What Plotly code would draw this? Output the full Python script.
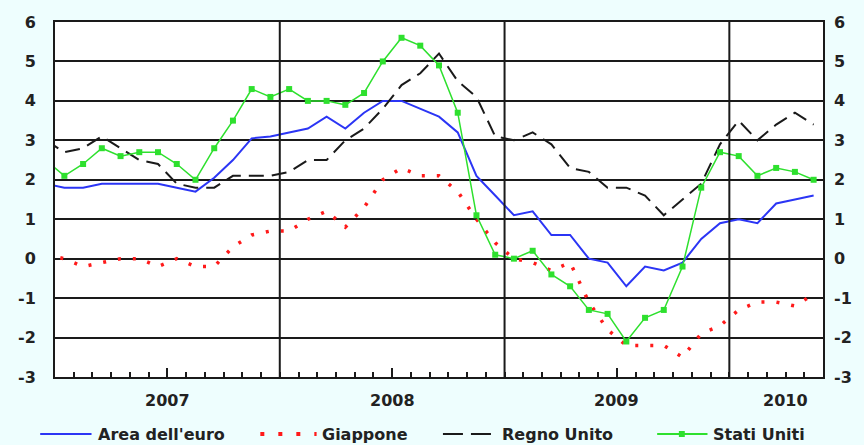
import plotly.graph_objects as go

# Monthly inflation rates (%), Dec 2006 .. May 2010
months = (["2006-12"]
          + [f"{y}-{m:02d}" for y in (2007, 2008, 2009) for m in range(1, 13)]
          + [f"2010-{m:02d}" for m in range(1, 6)])

area_euro = [1.9,
             1.8, 1.8, 1.9, 1.9, 1.9, 1.9, 1.8, 1.7, 2.05, 2.5, 3.05, 3.1,
             3.2, 3.3, 3.6, 3.3, 3.7, 4.0, 4.0, 3.8, 3.6, 3.2, 2.1, 1.6,
             1.1, 1.2, 0.6, 0.6, 0.0, -0.1, -0.7, -0.2, -0.3, -0.1, 0.5, 0.9,
             1.0, 0.9, 1.4, 1.5, 1.6]
giappone = [0.1,
            0.0, -0.2, -0.1, 0.0, 0.0, -0.2, 0.0, -0.2, -0.2, 0.3, 0.6, 0.7,
            0.7, 1.0, 1.2, 0.8, 1.3, 2.0, 2.3, 2.1, 2.1, 1.7, 1.0, 0.4,
            0.0, -0.1, -0.3, -0.1, -1.1, -1.8, -2.2, -2.2, -2.2, -2.5, -1.9, -1.7,
            -1.3, -1.1, -1.1, -1.2, -0.9]
regno_unito = [3.0,
               2.7, 2.8, 3.1, 2.8, 2.5, 2.4, 1.9, 1.8, 1.8, 2.1, 2.1, 2.1,
               2.2, 2.5, 2.5, 3.0, 3.3, 3.8, 4.4, 4.7, 5.2, 4.5, 4.1, 3.1,
               3.0, 3.2, 2.9, 2.3, 2.2, 1.8, 1.8, 1.6, 1.1, 1.5, 1.9, 2.9,
               3.5, 3.0, 3.4, 3.7, 3.4]
stati_uniti = [2.5,
               2.1, 2.4, 2.8, 2.6, 2.7, 2.7, 2.4, 2.0, 2.8, 3.5, 4.3, 4.1,
               4.3, 4.0, 4.0, 3.9, 4.2, 5.0, 5.6, 5.4, 4.9, 3.7, 1.1, 0.1,
               0.0, 0.2, -0.4, -0.7, -1.3, -1.4, -2.1, -1.5, -1.3, -0.2, 1.8, 2.7,
               2.6, 2.1, 2.3, 2.2, 2.0]

year_labels = ["2007", "2008", "2009", "2010"]
year_label_pos = [6, 18, 30, 39]
year_bounds = [12, 24, 36]
y_ticks = [-3, -2, -1, 0, 1, 2, 3, 4, 5, 6]
y_ticktext = [str(v) for v in y_ticks]

# x position: month index centred in its slot (Jan 2007 slot = [0,1])
xs = [i - 0.5 for i in range(len(months))]

BLUE = "#2b35f5"
RED = "#ff1a1a"
BLACK = "#1a1a1a"
GREEN = "#2ee02e"
FONT = "DejaVu Sans"

fig = go.Figure()
fig.add_trace(go.Scatter(x=xs, y=area_euro, mode="lines", name="Area dell'euro",
                         line=dict(color=BLUE, width=2), showlegend=False))
fig.add_trace(go.Scatter(x=xs, y=giappone, mode="lines", name="Giappone",
                         line=dict(color=RED, width=3.5, dash="3px,12px"), showlegend=False))
fig.add_trace(go.Scatter(x=xs, y=regno_unito, mode="lines", name="Regno Unito",
                         line=dict(color=BLACK, width=2, dash="15px,8px"), showlegend=False))
fig.add_trace(go.Scatter(x=xs, y=stati_uniti, mode="lines+markers", name="Stati Uniti",
                         line=dict(color=GREEN, width=1.5),
                         marker=dict(symbol="square", size=6, color=GREEN),
                         yaxis="y2", showlegend=False))

shapes = []
for b in year_bounds:
    shapes.append(dict(type="line", xref="x", yref="paper", x0=b, x1=b, y0=0, y1=1,
                       line=dict(color=BLACK, width=2), layer="above"))

TXT_FONT = dict(family=FONT, size=16, color="#222", weight="bold")

annotations = []
for lab, pos in zip(year_labels, year_label_pos):
    annotations.append(dict(text=lab, x=pos, xref="x", y=-0.065, yref="paper",
                            showarrow=False, xanchor="center", yanchor="middle",
                            font=TXT_FONT))

# manual legend (paper coordinates of plot area: x 55..833 px, y 22..377 px)
def px_x(p):
    return (p - 55) / 778.0

LEG_Y = (377 - 434) / 355.0
legend_items = [
    ("Area dell'euro", 40, 92, 97, dict(color=BLUE, width=2)),
    ("Giappone", 263, 320, 323, dict(color=RED, width=4, dash="4px,14px")),
    ("Regno Unito", 448, 501, 506, dict(color=BLACK, width=2, dash="20px,8px")),
    ("Stati Uniti", 665, 716, 720, dict(color=GREEN, width=2)),
]
for text, x0, x1, tx, ln in legend_items:
    shapes.append(dict(type="line", xref="paper", yref="paper",
                       x0=px_x(x0), x1=px_x(x1), y0=LEG_Y, y1=LEG_Y, line=ln))
    annotations.append(dict(text=text, x=px_x(tx), xref="paper", y=LEG_Y, yref="paper",
                            showarrow=False, xanchor="left", yanchor="middle",
                            font=TXT_FONT))
# green legend marker
shapes.append(dict(type="rect", xref="paper", yref="paper",
                   x0=px_x(687), x1=px_x(693), y0=LEG_Y - 3 / 355.0, y1=LEG_Y + 3 / 355.0,
                   line=dict(width=0), fillcolor=GREEN))

axis_font = dict(family=FONT, size=16, color="#222", weight="bold")

fig.update_layout(
    width=864, height=445,
    margin=dict(l=55, r=31, t=22, b=68),
    paper_bgcolor="#eefefe",
    plot_bgcolor="white",
    showlegend=False,
    shapes=shapes,
    annotations=annotations,
    xaxis=dict(range=[0, 41], showline=True, mirror=True, linecolor=BLACK, linewidth=2,
               showgrid=False, zeroline=False,
               tickmode="array", tickvals=[6, 18, 30], ticktext=["", "", ""],
               ticks="inside", ticklen=9, tickwidth=2, tickcolor=BLACK,
               minor=dict(tick0=0, dtick=1, ticks="inside", ticklen=5, tickwidth=2,
                          tickcolor=BLACK, showgrid=False)),
    yaxis=dict(range=[-3, 6], tickmode="array", tickvals=y_ticks, ticktext=y_ticktext,
               showgrid=True, gridcolor=BLACK, gridwidth=2, zeroline=False,
               showline=True, mirror=True, linecolor=BLACK, linewidth=2,
               ticks="", tickfont=axis_font, ticklabelstandoff=14),
    yaxis2=dict(range=[-3, 6], overlaying="y", side="right", tickmode="array",
                tickvals=y_ticks, ticktext=y_ticktext, showgrid=False, zeroline=False,
                showline=False, ticks="", tickfont=axis_font, ticklabelstandoff=10),
)

fig.write_html("out.html", config={"displayModeBar": False},
               post_script="document.body.style.margin='0';document.body.style.overflow='hidden';")
